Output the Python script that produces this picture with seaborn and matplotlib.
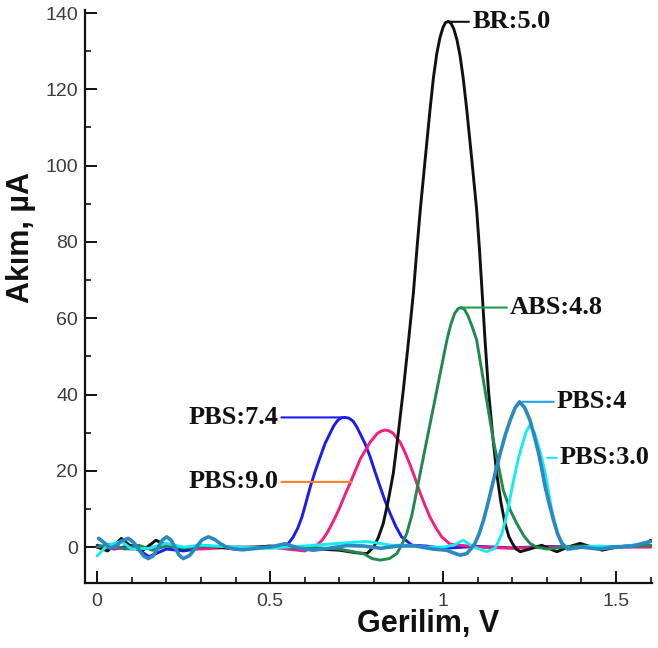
import matplotlib
matplotlib.use('Agg')
import matplotlib.pyplot as plt
from matplotlib.ticker import MultipleLocator
import seaborn as sns
import pandas as pd

# Voltammogram traces (V, uA)
br_v = [0.00, 0.03, 0.05, 0.07, 0.10, 0.13, 0.17, 0.20, 0.25, 0.30, 0.40, 0.50, 0.60, 0.70,
        0.75, 0.78, 0.80, 0.813, 0.827, 0.841, 0.856, 0.870, 0.885, 0.900, 0.914, 0.924,
        0.934, 0.948, 0.962, 0.972, 0.982, 0.991, 1.000, 1.007, 1.015, 1.023, 1.031, 1.040,
        1.049, 1.058, 1.068, 1.083, 1.097, 1.105, 1.112, 1.121, 1.131, 1.143, 1.155, 1.167,
        1.179, 1.190, 1.200, 1.211, 1.223, 1.250, 1.285, 1.310, 1.329, 1.360, 1.396, 1.430,
        1.460, 1.500, 1.550, 1.580, 1.600]
br_i = [0.0, -1.0, 0.5, 2.3, 0.0, -1.0, 1.8, 0.5, -0.5, 0.5, -0.5, 0.3, -0.3, -0.8,
        -1.5, -1.7, 0.1, 2.6, 6.2, 12.0, 19.3, 29.5, 41.2, 54.0, 66.5, 77.8,
        88.4, 101.5, 114.5, 123.0, 129.5, 133.6, 136.3, 137.5, 137.8, 137.3, 135.8, 133.0,
        128.8, 123.0, 115.0, 101.5, 88.4, 78.2, 68.0, 54.5, 41.2, 29.5, 19.3, 11.8,
        6.2, 2.8, 1.0, -0.5, -1.2, -0.5, 0.5, -0.5, -1.2, 0.0, 1.0, 0.0,
        -0.8, 0.0, 0.5, 0.5, 1.8]

abs_v = [0.00, 0.04, 0.08, 0.12, 0.16, 0.20, 0.25, 0.30, 0.40, 0.50, 0.60, 0.70, 0.77,
         0.795, 0.818, 0.845, 0.866, 0.880, 0.895, 0.910, 0.924, 0.953, 0.982, 1.011,
         1.022, 1.033, 1.043, 1.052, 1.062, 1.072, 1.084, 1.097, 1.121, 1.145, 1.174,
         1.195, 1.213, 1.233, 1.251, 1.270, 1.300, 1.350, 1.400, 1.500, 1.600]
abs_i = [0.0, 0.8, -0.5, 0.5, -0.8, 0.3, -0.3, 0.3, 0.0, 0.0, 0.0, -0.5, -1.7,
         -3.0, -3.4, -3.0, -1.7, 0.5, 3.6, 8.5, 14.9, 28.1, 41.2, 54.3,
         58.3, 61.2, 62.5, 62.8, 62.3, 60.6, 57.8, 54.3, 41.2, 28.1, 14.9,
         9.5, 6.2, 3.0, 1.0, 0.0, -0.5, 0.0, 0.3, 0.0, 0.5]

p74_v = [0.00, 0.05, 0.10, 0.15, 0.20, 0.25, 0.30, 0.35, 0.40, 0.45, 0.50,
         0.540, 0.553, 0.567, 0.580, 0.592, 0.604, 0.616, 0.630, 0.645, 0.659, 0.673,
         0.684, 0.695, 0.706, 0.717, 0.728, 0.740, 0.750, 0.760,
         0.775, 0.789, 0.803, 0.818, 0.832, 0.847, 0.863, 0.880,
         0.910, 0.950, 1.000, 1.100, 1.200, 1.300, 1.400, 1.500, 1.600]
p74_i = [0.5, -0.5, 0.5, -2.5, -0.5, -1.0, -0.3, 0.0, -0.3, 0.0, 0.0,
         0.2, 1.0, 2.7, 5.0, 7.9, 11.8, 15.8, 19.8, 23.7, 27.2, 29.8,
         31.8, 33.2, 33.9, 34.0, 33.8, 33.0, 31.6, 29.8,
         27.0, 23.7, 19.8, 15.8, 12.2, 8.8, 5.5, 2.7,
         0.5, 0.3, -0.3, 0.2, -0.2, 0.2, 0.0, 0.2, 0.3]

p90_v = [0.00, 0.10, 0.20, 0.30, 0.40, 0.50, 0.55, 0.60, 0.635, 0.650, 0.664, 0.681,
         0.698, 0.714, 0.731, 0.760, 0.789, 0.810, 0.821, 0.832, 0.843, 0.855, 0.876,
         0.890, 0.905, 0.920, 0.934, 0.948, 0.962, 0.980, 0.996, 1.020, 1.100, 1.200,
         1.300, 1.400, 1.500, 1.600]
p90_i = [0.0, -0.5, 0.3, -0.5, 0.0, 0.0, -0.5, -1.0, 0.5, 1.8, 3.6, 6.5,
         9.7, 13.2, 16.7, 23.0, 27.5, 29.8, 30.4, 30.7, 30.5, 29.9, 27.5,
         24.8, 21.5, 17.8, 14.1, 10.9, 7.9, 4.9, 2.7, 0.8, 0.0, -0.3,
         0.0, 0.0, 0.0, 0.0]

p4_v = [0.004, 0.020, 0.038, 0.055, 0.070, 0.090, 0.105, 0.120, 0.134, 0.148,
        0.162, 0.175, 0.188, 0.201, 0.213, 0.225, 0.237, 0.249, 0.267, 0.285,
        0.303, 0.322, 0.340, 0.355, 0.372, 0.389, 0.420, 0.465, 0.505, 0.543,
        0.580, 0.624, 0.670, 0.720, 0.770, 0.820, 0.870, 0.920, 0.970, 1.010,
        1.030, 1.049, 1.068, 1.080, 1.092, 1.104, 1.117, 1.129, 1.141, 1.153,
        1.165, 1.180, 1.194, 1.208, 1.221, 1.236, 1.251, 1.264, 1.276, 1.286,
        1.295, 1.307, 1.319, 1.331, 1.343, 1.360, 1.400, 1.450, 1.500, 1.550,
        1.600]
p4_i = [2.3, 1.2, -0.3, 0.3, 1.6, 2.3, 1.3, -0.5, -2.3, -3.0,
        -2.3, -0.3, 1.8, 2.7, 1.9, 0.0, -2.1, -3.0, -2.2, -0.2,
        1.9, 2.7, 2.0, 1.0, 0.1, -0.4, -0.7, -0.3, 0.1, 0.9,
        -0.2, -0.8, -0.3, 0.4, 0.3, -0.3, 0.3, 0.3, -0.5, -0.8,
        -1.5, -2.1, -1.7, -0.5, 1.0, 3.5, 7.1, 11.3, 15.8, 20.3,
        24.6, 29.5, 33.3, 36.5, 38.1, 36.5, 33.3, 29.0, 24.6, 20.2,
        15.8, 11.3, 7.1, 3.5, 1.0, -0.5, 0.0, -0.5, 0.0, 0.3,
        1.5]

p30_v = [0.000, 0.030, 0.070, 0.100, 0.150, 0.200, 0.250, 0.300, 0.400, 0.500, 0.600,
         0.700, 0.780, 0.850, 0.900, 0.950, 1.000, 1.030, 1.058, 1.090, 1.126, 1.150,
         1.160, 1.170, 1.180, 1.189, 1.198, 1.208, 1.217, 1.227, 1.239, 1.251, 1.264,
         1.276, 1.286, 1.295, 1.304, 1.312, 1.321, 1.330, 1.348, 1.370, 1.400, 1.450,
         1.500, 1.550, 1.600]
p30_i = [-2.3, 0.5, 1.5, -0.5, -0.3, 1.0, 0.0, 0.5, 0.0, -0.3, 0.3,
         1.0, 1.5, 0.5, 0.5, 0.0, 0.0, 0.5, 1.8, 0.0, -1.2, -0.3,
         1.5, 3.6, 7.0, 10.6, 15.0, 19.3, 23.0, 26.3, 30.0, 32.0, 30.0,
         26.3, 23.0, 19.3, 15.0, 10.6, 7.0, 3.6, 0.5, -0.5, 0.0, 0.3,
         0.0, 0.5, 1.5]

# label, voltages, currents, curve colour, line width
series = [
    ('PBS:7.4', p74_v, p74_i, '#1c1cf0', 2.1),
    ('PBS:9.0', p90_v, p90_i, '#f41e7c', 2.1),
    ('BR:5.0', br_v, br_i, '#111111', 2.1),
    ('ABS:4.8', abs_v, abs_i, '#1f8a4c', 2.1),
    ('PBS:3.0', p30_v, p30_i, '#14ecf4', 2.1),
    ('PBS:4', p4_v, p4_i, '#2a88c2', 2.6),
]

# annotations: label, point on curve, text position, text alignment, leader colour
notes = [
    ('BR:5.0', (1.015, 137.7), (1.084, 137.7), 'left', '#111111'),
    ('ABS:4.8', (1.052, 62.8), (1.194, 62.8), 'left', '#1f9a4c'),
    ('PBS:7.4', (0.717, 34.0), (0.523, 34.0), 'right', '#1c1cf0'),
    ('PBS:9.0', (0.736, 17.1), (0.523, 17.1), 'right', '#ff7f22'),
    ('PBS:4', (1.230, 38.1), (1.329, 38.1), 'left', '#1aa6e6'),
    ('PBS:3.0', (1.301, 23.4), (1.338, 23.4), 'left', '#14ecf4'),
]

sns.set_style('ticks')
plt.rcParams['font.family'] = ['Liberation Sans', 'DejaVu Sans']

fig = plt.figure(figsize=(6.58, 6.48), dpi=100)
ax = fig.add_axes([0.1292, 0.1003, 0.8618, 0.8843])

for name, v, i, col, lw in series:
    df = pd.DataFrame({'V': v, 'I': i})
    sns.lineplot(data=df, x='V', y='I', ax=ax, color=col, linewidth=lw,
                 estimator=None, sort=False, legend=False)

for text, xy, xyt, ha, col in notes:
    ax.annotate(text, xy=xy, xytext=xyt, ha=ha, va='center',
                fontsize=19, fontweight='bold', color='#111111',
                family=['Liberation Serif', 'DejaVu Serif'],
                arrowprops=dict(arrowstyle='-', color=col, lw=1.5,
                                shrinkA=0, shrinkB=0))

ax.set_xlim(-0.035, 1.604)
ax.set_ylim(-9.4, 140.8)
ax.set_xticks([0, 0.5, 1, 1.5])
ax.set_xticklabels(['0', '0.5', '1', '1.5'])
ax.set_yticks(range(0, 141, 20))
ax.xaxis.set_minor_locator(MultipleLocator(0.1))
ax.yaxis.set_minor_locator(MultipleLocator(10))

sns.despine(ax=ax)
for s in ['left', 'bottom']:
    ax.spines[s].set_linewidth(1.6)
    ax.spines[s].set_color('#111111')

ax.tick_params(which='major', direction='in', length=8.5, width=1.4,
               colors='#111111', labelcolor='#3c3c3c', labelsize=14)
ax.tick_params(axis='y', which='major', pad=5)
ax.tick_params(axis='x', which='major', pad=7.5)
ax.tick_params(which='minor', direction='in', length=4.3, width=1.2, colors='#111111')

ax.set_xlabel('Gerilim, V', fontsize=22, fontweight='bold', color='#111111')
ax.set_ylabel('Akım, µA', fontsize=22, fontweight='bold', color='#111111')
ax.xaxis.set_label_coords(0.605, -0.046)
ax.yaxis.set_label_coords(-0.086, 0.603)

fig.savefig('out.png', dpi=100, facecolor='white')
